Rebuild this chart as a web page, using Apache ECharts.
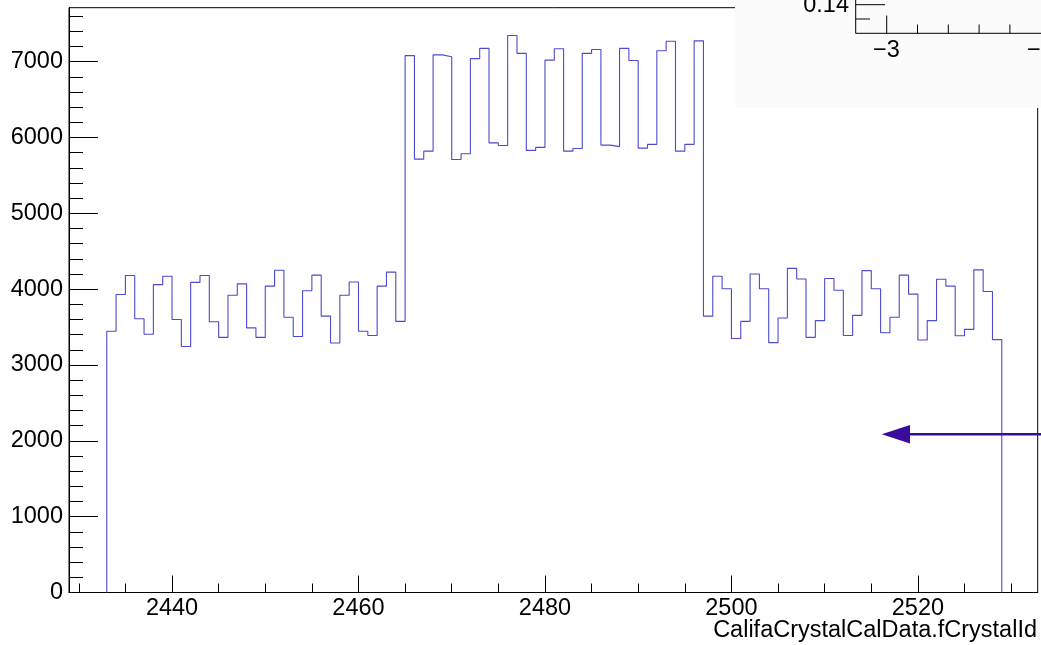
<!DOCTYPE html>
<html>
<head>
<meta charset="utf-8">
<script src="https://cdn.jsdelivr.net/npm/echarts@6/dist/echarts.min.js"></script>
<style>
html,body{margin:0;padding:0;background:#fff;}
#chart{width:1041px;height:645px;}
</style>
</head>
<body>
<div id="chart"></div>
<script>
// Bin lower edges (crystal IDs), one bin per ID
const crystalIds = [
  2433,2434,2435,2436,2437,2438,2439,2440,2441,2442,2443,2444,2445,2446,2447,2448,
  2449,2450,2451,2452,2453,2454,2455,2456,2457,2458,2459,2460,2461,2462,2463,2464,
  2465,2466,2467,2468,2469,2470,2471,2472,2473,2474,2475,2476,2477,2478,2479,2480,
  2481,2482,2483,2484,2485,2486,2487,2488,2489,2490,2491,2492,2493,2494,2495,2496,
  2497,2498,2499,2500,2501,2502,2503,2504,2505,2506,2507,2508,2509,2510,2511,2512,
  2513,2514,2515,2516,2517,2518,2519,2520,2521,2522,2523,2524,2525,2526,2527,2528
];
const counts = [
  3445,3930,4180,3610,3405,4060,4170,3600,3245,4090,4180,3570,3365,3920,4070,3490,
  3365,4040,4250,3630,3375,3980,4185,3645,3290,3920,4095,3445,3390,4040,4225,3575,
  7080,5715,5820,7090,7065,5710,5785,7040,7175,5930,5895,7345,7110,5830,5870,7020,
  7170,5820,5855,7110,7160,5900,5880,7175,7015,5860,5910,7145,7270,5820,5910,7275,
  3645,4170,4005,3350,3575,4200,4005,3295,3620,4275,4135,3365,3585,4140,3985,3390,
  3655,4245,4005,3425,3630,4185,3935,3330,3585,4130,4040,3385,3470,4255,3970,3335
];
const binWidth = 1;
const xMajorTicks = [2440,2460,2480,2500,2520];
const xMinorTicks = [2430,2435,2445,2450,2455,2465,2470,2475,2485,2490,2495,2505,2510,2515,2525,2530];
const yMajorTicks = [0,1000,2000,3000,4000,5000,6000,7000];
const yMinorTicks = [200,400,600,800,1200,1400,1600,1800,2200,2400,2600,2800,3200,3400,3600,3800,
  4200,4400,4600,4800,5200,5400,5600,5800,6200,6400,6600,6800,7200,7400,7600];
const xTitle = 'CalifaCrystalCalData.fCrystalId';
const xMin = 2428.95, xMax = 2532.85, yMin = 0, yMax = 7712;

// Histogram outline as step line
const stepData = [[crystalIds[0], 0]];
crystalIds.forEach((id, i) => stepData.push([id, counts[i]]));
stepData.push([crystalIds[crystalIds.length - 1] + binWidth, 0]);

const FONT = '"Liberation Sans", Arial, Helvetica, sans-serif';
const FS = 23.5;
const chart = echarts.init(document.getElementById('chart'), null, {renderer: 'canvas'});

const baseX = {
  type: 'value', min: xMin, max: xMax, gridIndex: 0, position: 'bottom',
  splitLine: {show: false}, scale: true
};
const baseY = {
  type: 'value', min: yMin, max: yMax, gridIndex: 0, position: 'left',
  splitLine: {show: false}
};

const insetLine = (x1, y1, x2, y2) => ({
  type: 'line', z: 101, silent: true,
  shape: {x1, y1, x2, y2},
  style: {stroke: '#000', lineWidth: 1}
});

chart.setOption({
  animation: false,
  backgroundColor: '#fff',
  grid: [{
    left: 69, right: 3.3, top: 7.7, bottom: 52.5,
    show: true, borderColor: '#000', borderWidth: 1, backgroundColor: 'transparent',
    containLabel: false, outerBoundsMode: 'none'
  }],
  xAxis: [
    Object.assign({}, baseX, {
      axisLine: {show: true, lineStyle: {color: '#000', width: 1}},
      axisTick: {show: true, inside: true, length: 17, customValues: xMajorTicks, lineStyle: {color: '#000', width: 1}},
      axisLabel: {show: true, customValues: xMajorTicks, margin: 4, color: '#000', fontSize: FS, fontFamily: FONT,
        formatter: v => String(Math.round(v))}
    }),
    Object.assign({}, baseX, {
      axisLine: {show: false},
      axisTick: {show: true, inside: true, length: 9, customValues: xMinorTicks, lineStyle: {color: '#000', width: 1}},
      axisLabel: {show: false}
    })
  ],
  yAxis: [
    Object.assign({}, baseY, {
      axisLine: {show: true, lineStyle: {color: '#000', width: 1}},
      axisTick: {show: true, inside: true, length: 29, customValues: yMajorTicks, lineStyle: {color: '#000', width: 1}},
      axisLabel: {show: true, customValues: yMajorTicks, margin: 6, color: '#000', fontSize: FS, fontFamily: FONT,
        formatter: v => String(Math.round(v))}
    }),
    Object.assign({}, baseY, {
      axisLine: {show: false},
      axisTick: {show: true, inside: true, length: 14, customValues: yMinorTicks, lineStyle: {color: '#000', width: 1}},
      axisLabel: {show: false}
    })
  ],
  series: [{
    type: 'line',
    xAxisIndex: 0, yAxisIndex: 0,
    data: stepData,
    step: 'end',
    symbol: 'none',
    lineStyle: {color: '#4b4bcc', width: 1.1},
    itemStyle: {color: '#4b4bcc'},
    clip: true,
    z: 5
  }],
  graphic: [
    // x-axis title
    {type: 'text', z: 50, silent: true, x: 1037, y: 631,
      style: {text: xTitle, fill: '#000', font: FS + 'px ' + FONT, textAlign: 'right', textVerticalAlign: 'middle'}},
    // arrow annotation
    {type: 'line', z: 60, silent: true, shape: {x1: 905, y1: 434.3, x2: 1041, y2: 434.3},
      style: {stroke: '#3b0c9c', lineWidth: 2.5}},
    {type: 'polygon', z: 60, silent: true, shape: {points: [[881.7, 434.3], [910, 425], [910, 443.6]]},
      style: {fill: '#3b0c9c'}},
    // overlapping inset pad (partly visible)
    {type: 'rect', z: 100, silent: true, shape: {x: 735, y: -2, width: 310, height: 110},
      style: {fill: '#fbfbfb'}},
    insetLine(855.7, -5, 855.7, 33.3),
    insetLine(855.7, 33.3, 1045, 33.3),
    insetLine(855.7, 4.7, 885, 4.7),
    insetLine(855.7, 19, 870, 19),
    insetLine(886.7, 33.3, 886.7, 15.5),
    insetLine(917.5, 33.3, 917.5, 24.5),
    insetLine(948.3, 33.3, 948.3, 24.5),
    insetLine(979.1, 33.3, 979.1, 24.5),
    insetLine(1009.9, 33.3, 1009.9, 24.5),
    {type: 'text', z: 101, silent: true, x: 849, y: 5.3,
      style: {text: '0.14', fill: '#000', font: FS + 'px ' + FONT, textAlign: 'right', textVerticalAlign: 'middle'}},
    {type: 'text', z: 101, silent: true, x: 886.5, y: 51,
      style: {text: '\u22123', fill: '#000', font: FS + 'px ' + FONT, textAlign: 'center', textVerticalAlign: 'middle'}},
    {type: 'text', z: 101, silent: true, x: 1040.5, y: 51,
      style: {text: '\u22122', fill: '#000', font: FS + 'px ' + FONT, textAlign: 'center', textVerticalAlign: 'middle'}}
  ]
});
</script>
</body>
</html>
